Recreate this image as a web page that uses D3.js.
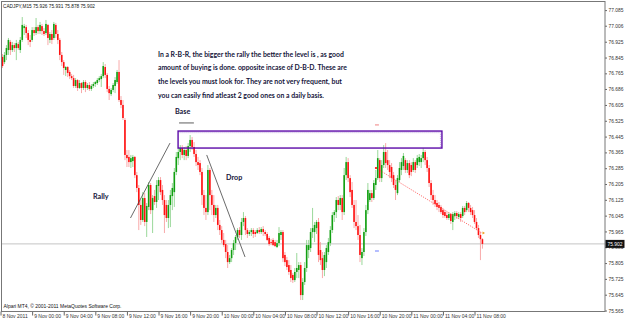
<!DOCTYPE html>
<html><head><meta charset="utf-8">
<script src="https://cdn.jsdelivr.net/npm/d3@7/dist/d3.min.js"></script>
<style>html,body{margin:0;padding:0;background:#fff}svg{display:block}</style>
</head><body>
<svg id="c" width="625" height="319"></svg>
<script>
// ---------- data ----------
const symbolTitle = "CADJPY,M15  75.926 75.931 75.878 75.902";
const opens = [76.848,76.822,76.858,76.883,76.924,76.883,76.908,76.893,76.913,76.883,
76.934,76.994,76.999,76.969,76.934,76.934,76.984,76.969,76.999,76.979,
77.004,76.979,76.969,77.010,76.934,76.964,76.944,77.010,76.964,76.934,
76.858,76.822,76.782,76.797,76.772,76.751,76.741,76.701,76.731,76.691,
76.716,76.691,76.721,76.691,76.706,76.686,76.701,76.711,76.716,76.731,
76.736,76.751,76.797,76.757,76.686,76.660,76.681,76.701,76.721,76.772,
76.630,76.605,76.529,76.352,76.342,76.316,76.321,76.342,76.250,76.185,
76.099,76.023,76.134,76.013,76.089,76.200,76.073,76.144,76.114,76.195,
76.225,76.175,76.124,76.099,76.033,76.099,76.144,76.164,76.266,76.336,
76.367,76.387,76.352,76.377,76.347,76.397,76.428,76.392,76.357,76.316,
76.311,76.266,76.149,76.084,76.063,76.276,76.149,76.099,76.048,76.084,
75.998,75.972,75.922,75.901,75.861,75.810,75.830,75.871,75.906,75.937,
75.972,75.947,76.013,76.033,75.972,75.952,75.962,75.972,75.962,75.957,
75.972,75.962,75.977,75.962,75.952,75.932,75.911,75.922,75.911,75.886,
75.906,75.947,75.962,75.846,75.820,75.795,75.770,75.745,75.719,75.760,
75.770,75.795,75.643,75.709,75.780,75.871,75.881,75.962,75.962,75.982,
76.013,75.871,75.830,75.770,75.810,75.861,75.906,75.972,76.048,76.063,
76.124,76.099,76.134,76.063,76.250,76.316,76.235,76.175,76.099,76.013,
75.992,75.947,75.830,75.861,75.962,76.073,76.124,76.159,76.134,76.200,
76.235,76.326,76.235,76.301,76.367,76.326,76.301,76.291,76.250,76.200,
76.159,76.225,76.276,76.296,76.326,76.276,76.311,76.301,76.276,76.316,
76.301,76.316,76.316,76.336,76.367,76.326,76.286,76.210,76.149,76.124,
76.109,76.099,76.089,76.073,76.063,76.048,76.033,76.053,76.013,76.043,
76.058,76.038,76.053,76.043,76.084,76.073,76.109,76.084,76.073,76.048,
76.013,75.982,75.947,75.926];
const highs = [76.863,76.873,76.908,76.944,76.934,76.924,76.918,76.934,76.924,76.949,
77.050,77.015,77.010,76.984,76.959,76.999,76.999,77.045,77.010,77.025,
77.015,76.994,77.035,77.015,76.974,76.984,77.025,77.020,76.984,76.944,
76.873,76.832,76.802,76.802,76.782,76.762,76.757,76.741,76.736,76.731,
76.721,76.731,76.731,76.716,76.721,76.711,76.721,76.726,76.741,76.751,
76.762,76.822,76.812,76.767,76.701,76.691,76.716,76.746,76.782,76.832,
76.650,76.630,76.539,76.377,76.377,76.352,76.352,76.347,76.266,76.200,
76.124,76.164,76.159,76.109,76.215,76.210,76.149,76.175,76.225,76.240,
76.240,76.200,76.149,76.124,76.124,76.175,76.210,76.286,76.367,76.387,
76.402,76.402,76.392,76.397,76.412,76.453,76.443,76.417,76.377,76.342,
76.326,76.286,76.175,76.149,76.301,76.286,76.175,76.149,76.099,76.099,
76.023,75.992,75.957,75.922,75.896,75.846,75.881,75.922,75.947,75.982,
75.987,76.033,76.063,76.043,75.982,75.972,75.982,75.982,75.972,75.982,
75.987,75.987,75.992,75.972,75.962,75.942,75.927,75.932,75.922,75.922,
75.987,75.972,75.972,75.861,75.836,75.820,75.795,75.755,75.780,75.856,
75.810,75.810,75.729,75.810,75.922,75.922,75.982,76.084,76.013,76.023,
76.033,75.911,75.861,75.861,75.896,75.932,75.992,76.063,76.073,76.139,
76.144,76.149,76.149,76.286,76.342,76.336,76.250,76.215,76.124,76.124,
76.048,75.998,75.881,75.982,76.099,76.210,76.175,76.175,76.225,76.276,
76.377,76.336,76.326,76.402,76.412,76.377,76.326,76.311,76.266,76.225,
76.250,76.316,76.336,76.362,76.336,76.326,76.326,76.316,76.336,76.326,
76.352,76.357,76.352,76.387,76.377,76.342,76.301,76.225,76.175,76.149,
76.124,76.114,76.099,76.084,76.073,76.063,76.063,76.058,76.063,76.068,
76.068,76.063,76.063,76.094,76.094,76.119,76.114,76.099,76.089,76.073,
76.033,75.998,75.962,75.931];
const lows = [76.792,76.812,76.832,76.858,76.858,76.873,76.873,76.832,76.883,76.868,
76.924,76.959,76.944,76.908,76.898,76.924,76.954,76.959,76.964,76.964,
76.959,76.954,76.959,76.908,76.918,76.913,76.934,76.944,76.913,76.832,
76.802,76.757,76.751,76.746,76.736,76.731,76.691,76.691,76.676,76.686,
76.665,76.681,76.670,76.681,76.676,76.676,76.691,76.696,76.706,76.721,
76.696,76.741,76.741,76.670,76.630,76.650,76.670,76.665,76.711,76.620,
76.589,76.529,76.326,76.291,76.291,76.286,76.291,76.235,76.164,75.972,
75.998,76.013,75.992,75.937,76.073,76.053,75.957,76.099,76.084,76.124,
76.149,76.099,75.957,76.013,75.982,75.987,76.073,76.089,76.250,76.301,
76.326,76.336,76.326,76.326,76.336,76.367,76.377,76.342,76.296,76.276,
76.250,76.099,76.048,76.023,76.048,76.073,76.048,76.013,76.033,75.972,
75.947,75.906,75.886,75.830,75.780,75.800,75.810,75.846,75.871,75.922,
75.932,75.922,75.992,75.947,75.932,75.942,75.942,75.932,75.937,75.952,
75.952,75.952,75.942,75.942,75.916,75.891,75.896,75.891,75.886,75.881,
75.891,75.922,75.810,75.790,75.770,75.745,75.709,75.704,75.709,75.729,
75.729,75.618,75.618,75.694,75.760,75.830,75.861,75.932,75.911,75.952,
75.810,75.795,75.729,75.739,75.780,75.846,75.891,75.957,76.013,76.033,
76.073,76.073,76.023,76.048,76.225,76.215,76.139,76.084,75.982,75.972,
75.922,75.810,75.795,75.841,75.942,76.053,76.114,76.114,76.124,76.175,
76.225,76.215,76.215,76.286,76.286,76.276,76.235,76.215,76.185,76.124,
76.149,76.215,76.250,76.276,76.261,76.261,76.235,76.245,76.266,76.261,
76.286,76.296,76.286,76.316,76.301,76.266,76.190,76.124,76.099,76.089,
76.073,76.063,76.053,76.033,76.033,76.023,76.023,76.003,75.972,76.023,
76.028,76.028,76.013,76.033,76.048,76.063,76.063,76.048,76.033,76.003,
75.972,75.932,75.820,75.878];
const closes = [76.802,76.858,76.893,76.934,76.883,76.908,76.893,76.918,76.893,76.934,
77.010,77.004,76.969,76.934,76.924,76.984,76.969,76.999,76.979,77.010,
76.979,76.964,77.015,76.944,76.964,76.934,77.015,76.964,76.934,76.858,
76.822,76.792,76.797,76.767,76.751,76.741,76.701,76.731,76.691,76.716,
76.691,76.721,76.691,76.706,76.686,76.701,76.711,76.721,76.731,76.741,
76.751,76.802,76.757,76.686,76.665,76.681,76.706,76.731,76.772,76.630,
76.605,76.539,76.352,76.336,76.316,76.336,76.342,76.250,76.185,76.099,
76.023,76.134,76.013,76.094,76.200,76.073,76.134,76.114,76.200,76.225,
76.164,76.124,76.048,76.033,76.099,76.149,76.185,76.266,76.342,76.367,
76.387,76.352,76.377,76.347,76.397,76.428,76.392,76.357,76.316,76.301,
76.266,76.149,76.084,76.063,76.276,76.149,76.099,76.048,76.084,75.998,
75.972,75.922,75.896,75.861,75.810,75.830,75.871,75.906,75.937,75.972,
75.947,76.013,76.033,75.972,75.952,75.962,75.972,75.952,75.952,75.972,
75.962,75.977,75.962,75.952,75.922,75.901,75.906,75.896,75.891,75.906,
75.957,75.962,75.830,75.810,75.785,75.760,75.729,75.719,75.760,75.780,
75.795,75.643,75.709,75.780,75.896,75.896,75.962,75.982,75.998,76.013,
75.846,75.820,75.770,75.846,75.881,75.911,75.972,76.048,76.063,76.124,
76.099,76.134,76.063,76.250,76.316,76.235,76.164,76.099,76.013,75.992,
75.947,75.846,75.861,75.962,76.073,76.175,76.159,76.134,76.210,76.235,
76.336,76.235,76.301,76.367,76.311,76.301,76.266,76.235,76.200,76.175,
76.235,76.286,76.316,76.347,76.276,76.311,76.250,76.266,76.316,76.276,
76.336,76.342,76.336,76.367,76.326,76.286,76.210,76.149,76.124,76.104,
76.089,76.084,76.063,76.048,76.043,76.033,76.053,76.018,76.053,76.058,
76.043,76.053,76.033,76.084,76.063,76.109,76.084,76.063,76.048,76.013,
75.982,75.947,75.926,75.902];

const xTickBars   = [-1,15,31,47,63,79,95,111,127,143,159,175,191,207,223,239];
const xTickLabels = ["8 Nov 2011","9 Nov 00:00","9 Nov 04:00","9 Nov 08:00","9 Nov 12:00","9 Nov 16:00","9 Nov 20:00","10 Nov 00:00","10 Nov 04:00","10 Nov 08:00","10 Nov 12:00","10 Nov 16:00","10 Nov 20:00","11 Nov 00:00","11 Nov 04:00","11 Nov 08:00"];
const yTickValues = [77.085,77.006,76.925,76.845,76.765,76.686,76.605,76.525,76.445,76.365,76.285,76.205,76.125,76.045,75.965,75.885,75.805,75.725,75.645,75.565];
const yTickLabels = ["77.085","77.006","76.925","76.845","76.765","76.686","76.605","76.525","76.445","76.365","76.285","76.205","76.125","76.045","75.965","75.885","75.805","75.725","75.645","75.565"];
const bidPrice = 75.902;
const noteLines = ["In a R-B-R, the bigger the rally the better the level is , as good",
  "amount of buying is done. opposite incase of D-B-D. These are",
  "the levels you must look for. They are not very frequent, but",
  "you can easily find atleast 2 good ones on a daily basis."];
const noteWidths = [186, 189, 184, 166];
const copyright = "Alpari MT4, \u00A9 2001-2011 MetaQuotes Software Corp.";
// drawn objects in (bar index, price) units
const zoneBox = {b1: 88.9, b2: 222.5, top: 76.473, bottom: 76.387};
const rallyLine = [[64.8, 76.033], [84.8, 76.412]];
const dropLine  = [[103.4, 76.352], [122.8, 75.836]];
const trendLine = [[189.1, 76.286], [242.8, 75.957]];
const baseMark  = [[89.4, 76.514], [96.9, 76.514]];
const labels = [{t:"Base", b:87.3, p:76.557}, {t:"Rally", b:45.8, p:76.127}, {t:"Drop", b:113.2, p:76.223}];
const noteAnchor = {b: 78.7, p: 76.850};

// ---------- scales ----------
const N = opens.length;
const x = d3.scaleLinear().domain([0, N - 1]).range([2.5, 2.5 + 1.975 * (N - 1)]);
const y = d3.scaleLinear().domain([75.565, 77.085]).range([310.5, 10.1]);
const F = {l: 1.5, t: 1.5, r: 605, b: 311.5};

const svg = d3.select("#c");
svg.append("rect").attr("width", 625).attr("height", 319).attr("fill", "#fff");
svg.append("defs").append("clipPath").attr("id", "plot")
  .append("rect").attr("x", F.l).attr("y", F.t).attr("width", F.r - F.l).attr("height", F.b - F.t);
const plot = svg.append("g").attr("clip-path", "url(#plot)");

// bid line
plot.append("line").attr("x1", F.l).attr("x2", F.r).attr("y1", y(bidPrice)).attr("y2", y(bidPrice))
  .attr("stroke", "#c4c4c4").attr("stroke-width", 1);

// candles
const idx = d3.range(N);
const up = i => closes[i] >= opens[i];
plot.append("g").selectAll("line").data(idx).join("line")
  .attr("x1", i => x(i)).attr("x2", i => x(i))
  .attr("y1", i => y(highs[i])).attr("y2", i => y(lows[i]))
  .attr("stroke", i => up(i) ? "#8fd48f" : "#f7a0a0").attr("stroke-width", 0.9);
plot.append("g").selectAll("rect").data(idx).join("rect")
  .attr("x", i => x(i) - 0.8).attr("width", 1.6)
  .attr("y", i => y(Math.max(opens[i], closes[i])))
  .attr("height", i => Math.max(0.8, Math.abs(y(opens[i]) - y(closes[i]))))
  .attr("fill", i => up(i) ? "#12a012" : "#ff1010");

// zone rectangle
const zx = x(zoneBox.b1), zw = x(zoneBox.b2) - x(zoneBox.b1);
const zy = y(zoneBox.top), zh = y(zoneBox.bottom) - y(zoneBox.top);
plot.append("rect").attr("x", zx).attr("y", zy).attr("width", zw).attr("height", zh)
  .attr("fill", "none").attr("stroke", "#5c0aa8").attr("stroke-width", 1.4);
plot.append("path")
  .attr("d", `M${zx+1.5},${zy+1.6}H${zx+zw-1.5}V${zy+zh-1}`)
  .attr("fill", "none").attr("stroke", "#a988d6").attr("stroke-width", 0.8).attr("stroke-dasharray", "1,1");

// trend lines
const ln = d3.line().x(d => x(d[0])).y(d => y(d[1]));
plot.append("path").attr("d", ln(rallyLine)).attr("stroke", "#444").attr("stroke-width", 0.8).attr("fill", "none");
plot.append("path").attr("d", ln(dropLine)).attr("stroke", "#444").attr("stroke-width", 0.8).attr("fill", "none");
plot.append("path").attr("d", ln(baseMark)).attr("stroke", "#333").attr("stroke-width", 0.8).attr("fill", "none");
plot.append("path").attr("d", ln(trendLine)).attr("stroke", "#ff5050").attr("stroke-width", 0.8)
  .attr("stroke-dasharray", "1.2,1.2").attr("fill", "none");
// small markers
const tEnd = trendLine[1];
plot.append("path").attr("d", `M${x(tEnd[0])+0.5},${y(tEnd[1])-1.5}l2.5,1.5l-2.5,1.5z`).attr("fill", "#f0a020");
plot.append("rect").attr("x", x(trendLine[0][0]) - 1).attr("y", y(trendLine[0][1]) - 1).attr("width", 2).attr("height", 2).attr("fill", "#ff3030");
plot.append("line").attr("x1", x(188.6)).attr("x2", x(190.6)).attr("y1", y(76.504)).attr("y2", y(76.504)).attr("stroke", "#f08080").attr("stroke-width", 1);
plot.append("line").attr("x1", x(188.6)).attr("x2", x(190.6)).attr("y1", y(75.866)).attr("y2", y(75.866)).attr("stroke", "#6a7cff").attr("stroke-width", 1);

// annotation texts
const txtFont = "Lato, 'Open Sans', 'Liberation Sans', sans-serif";
const nx = x(noteAnchor.b), ny = y(noteAnchor.p);
svg.append("g").selectAll("text").data(noteLines).join("text")
  .attr("x", nx).attr("y", (d, i) => ny + i * 13.8)
  .attr("textLength", (d, i) => noteWidths[i]).attr("lengthAdjust", "spacingAndGlyphs")
  .attr("font-family", txtFont).attr("font-weight", "bold").attr("font-size", 7.4)
  .attr("fill", "#15153a").text(d => d);
svg.append("g").selectAll("text").data(labels).join("text")
  .attr("x", d => x(d.b)).attr("y", d => y(d.p))
  .attr("font-family", txtFont).attr("font-weight", "bold").attr("font-size", 7.2)
  .attr("fill", "#15153a").text(d => d.t);

// title and copyright
svg.append("text").attr("x", 3).attr("y", 7.5).attr("font-family", "'Liberation Sans', Arial, sans-serif")
  .attr("font-size", 5.2).attr("fill", "#111").attr("textLength", 92).attr("lengthAdjust", "spacingAndGlyphs").text(symbolTitle);
svg.append("text").attr("x", 3.5).attr("y", 308).attr("font-family", "'Liberation Sans', Arial, sans-serif")
  .attr("font-size", 5).attr("fill", "#111").attr("textLength", 118).attr("lengthAdjust", "spacingAndGlyphs").text(copyright);

// axes
const axFont = "'Liberation Sans', Arial, sans-serif";
const yAx = svg.append("g").attr("transform", `translate(${F.r},0)`)
  .call(d3.axisRight(y).tickValues(yTickValues).tickFormat((d, i) => yTickLabels[i]).tickSize(2).tickPadding(1.5));
yAx.select(".domain").remove();
yAx.selectAll("line").attr("stroke", "#666");
yAx.selectAll("text").attr("font-family", axFont).attr("font-size", 4.9).attr("fill", "#333");

const xAx = svg.append("g").attr("transform", `translate(0,${F.b})`)
  .call(d3.axisBottom(x).tickValues(xTickBars).tickFormat((d, i) => xTickLabels[i]).tickSize(4).tickPadding(0));
xAx.select(".domain").remove();
xAx.selectAll("line").attr("stroke", "#666");
xAx.selectAll("text").attr("font-family", axFont).attr("font-size", 5).attr("fill", "#333")
  .attr("text-anchor", "start").attr("dx", 1.5).attr("dy", 0).attr("y", 6);

// frame
svg.append("rect").attr("x", F.l).attr("y", F.t).attr("width", F.r - F.l).attr("height", F.b - F.t)
  .attr("fill", "none").attr("stroke", "#777").attr("stroke-width", 1);

// bid price label
const by = y(bidPrice);
svg.append("rect").attr("x", F.r + 0.5).attr("y", by - 4).attr("width", 19).attr("height", 8).attr("fill", "#111");
svg.append("text").attr("x", F.r + 2.5).attr("y", by + 1.8).attr("font-family", axFont).attr("font-size", 4.9)
  .attr("fill", "#fff").text(bidPrice.toFixed(3));
</script>
</body></html>
